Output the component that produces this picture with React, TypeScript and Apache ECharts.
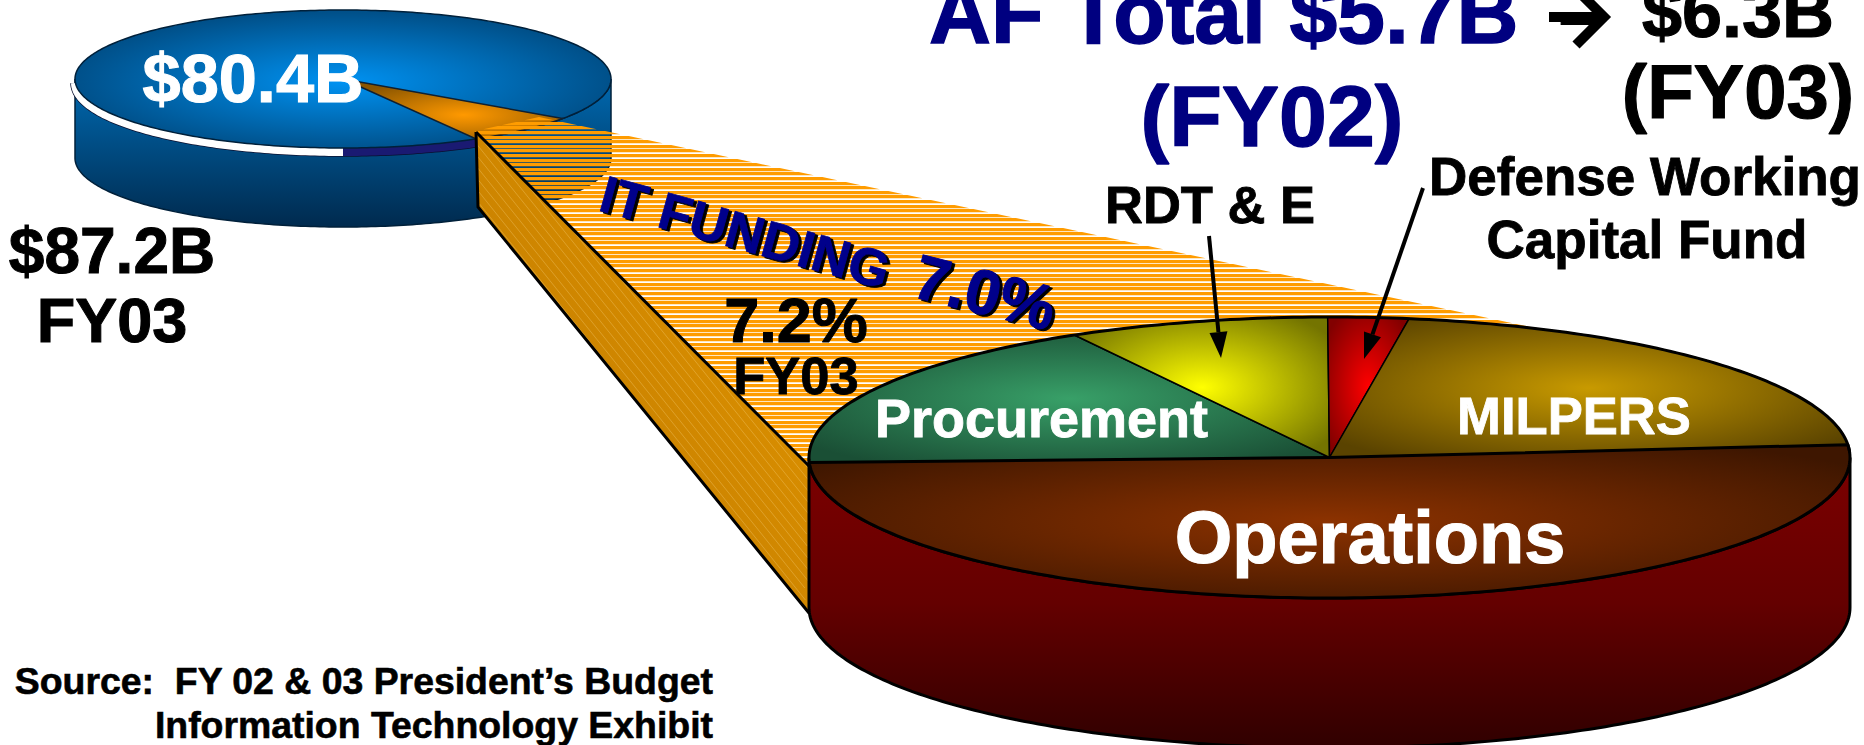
import React, { useEffect, useRef } from "react";
import * as echarts from "echarts";

// ---- data ----
const budgetCategories = ["IT Funding", "Other AF budget"];
const budgetShares = [7.0, 93.0];
const itCategories = ["Procurement", "RDT & E", "Defense Working Capital Fund", "MILPERS", "Operations"];
const itShares = [17.4, 8.1, 2.5, 21.1, 50.9];
const titleLeft = ["AF Total $5.7B", "(FY02)"];
const titleRight = ["$6.3B", "(FY03)"];
const budgetLabels = ["$80.4B", "$87.2B", "FY03"];
const fundingLabels = ["IT FUNDING", "7.0%", "7.2%", "FY03"];
const sourceLines = ["Source:  FY 02 & 03 President\u2019s Budget", "Information Technology Exhibit"];

// ---- layout & style ----
const FONT = '"Liberation Sans", Arial, sans-serif';
const NAVY = "#000080";
const small = { cx: 343, cy: 79, rx: 268, ry: 69, depth: 79, start: 35 };
const big = { cx: 1329.5, cy: 457.5, rx: 520.5, ry: 140.5, depth: 150, start: 178 };
const itPalette = [
  ["#38a068", "#1a4f35"],
  ["#ffff00", "#747400"],
  ["#ff0000", "#820000"],
  ["#c89a00", "#5a4300"],
  ["#8c3200", "#3e1600"],
];
const funnelTop: number[][] = [[475, 131], [539, 117], [1540, 329], [1331, 470], [811, 468]];
const funnelSide: number[][] = [[476, 132], [811, 468], [809, 613], [478, 207]];

type P = number[];
const arc = (e: any, a0: number, a1: number, dy = 0): P[] => {
  const pts: P[] = [];
  const n = Math.max(2, Math.ceil(Math.abs(a1 - a0)));
  for (let i = 0; i <= n; i++) {
    const a = ((a0 + ((a1 - a0) * i) / n) * Math.PI) / 180;
    pts.push([e.cx + e.rx * Math.cos(a), e.cy + e.ry * Math.sin(a) + dy]);
  }
  return pts;
};
const radial = (c: string[], x = 0.5, y = 0.5, r = 0.62) => ({
  type: "radial", x, y, r,
  colorStops: [{ offset: 0, color: c[0] }, { offset: 1, color: c[1] }],
});
const linear = (stops: string[], x = 0, y = 0, x2 = 0, y2 = 1) => ({
  type: "linear", x, y, x2, y2,
  colorStops: stops.map((color, i) => ({ offset: i / (stops.length - 1), color })),
});
const poly = (points: P[], style: any) => ({ type: "polygon", shape: { points }, style });
const pline = (points: P[], stroke: string, lineWidth: number, extra: any = {}) => ({
  type: "polyline", shape: { points }, style: { fill: "none", stroke, lineWidth, ...extra },
});
const txt = (
  text: string, x: number, base: number, size: number, fill: string, align = "center"
) => ({
  type: "text",
  x, y: base - 0.3465 * size,
  style: {
    text, fill, align, verticalAlign: "middle",
    textAlign: align, textVerticalAlign: "middle",
    font: `bold ${size}px ${FONT}`,
    stroke: fill, lineWidth: size * 0.016,
  },
});
// text on a rotated baseline: the position is given on the baseline
const rotTxt = (text: string, x: number, base: number, size: number, fill: string, deg: number) => {
  const r = (deg * Math.PI) / 180;
  const off = 0.3465 * size;
  return {
    type: "text",
    x: x + off * Math.sin(r),
    y: base - off * Math.cos(r),
    rotation: -r,
    style: {
      text, fill, align: "left", verticalAlign: "middle", textAlign: "left", textVerticalAlign: "middle",
      font: `bold ${size}px ${FONT}`, stroke: fill, lineWidth: size * 0.016,
    },
  };
};
const arrow = (a: P, b: P) => {
  const L = Math.hypot(b[0] - a[0], b[1] - a[1]);
  const u = [(b[0] - a[0]) / L, (b[1] - a[1]) / L];
  const h = 26, w = 9;
  const m = [b[0] - u[0] * h, b[1] - u[1] * h];
  return [
    pline([a, m], "#000", 4),
    poly([b, [m[0] - u[1] * w, m[1] + u[0] * w], [m[0] + u[1] * w, m[1] - u[0] * w]], { fill: "#000" }),
  ];
};
const scanX = (poly2: P[], y: number) => {
  const xs: number[] = [];
  poly2.forEach((p, i) => {
    const q = poly2[(i + 1) % poly2.length];
    if ((p[1] <= y && q[1] > y) || (q[1] <= y && p[1] > y)) {
      xs.push(p[0] + ((y - p[1]) * (q[0] - p[0])) / (q[1] - p[1]));
    }
  });
  return xs.length >= 2 ? [Math.min(...xs), Math.max(...xs)] : null;
};
const group = (children: any[]) => ({ type: "group", children });
const layer = (z: number, build: () => any[]) => ({
  type: "custom", coordinateSystem: "none", z, silent: true, data: [0],
  renderItem: () => group(build()),
});

const total = (a: number[]) => a.reduce((s, v) => s + v, 0);

function buildSmallPie() {
  const e = small;
  const w = (budgetShares[0] / total(budgetShares)) * 360;
  const wall = [...arc(e, 180, 0), ...arc(e, 0, 180, e.depth)];
  return [
    poly(wall, { fill: linear(["#0069b0", "#002a4e"]), stroke: "#00203a", lineWidth: 1.5 }),
    pline(arc(e, 180, 60, 4), "#0a1030", 9.5),
    pline(arc(e, 180, 90, 4), "#ffffff", 8),
    pline(arc(e, 90, 60, 4), "#1a1a72", 8),
    poly(arc(e, 0, 360), { fill: radial(["#0092f2", "#004a80"], 0.5, 0.52, 0.55), stroke: "#00203a", lineWidth: 1.5 }),
    poly([[e.cx, e.cy], ...arc(e, e.start, e.start + w)], {
      fill: radial(["#ff9900", "#8a5500"], 0.55, 0.6, 0.6), stroke: "#102030", lineWidth: 1.5,
    }),
  ];
}

function buildFunnel() {
  const bands: any[] = [];
  const H = 3.2;
  for (let y = 117.2; y < 472; y += 4.6) {
    const yy = Math.round(y);
    const a = scanX(funnelTop, yy + 0.01);
    const b = scanX(funnelTop, yy + H);
    if (a && b) bands.push(poly([[a[0], yy], [a[1], yy], [b[1], yy + H], [b[0], yy + H]], { fill: "#ff9c00" }));
  }
  const hatch: any[] = [];
  for (let c = -260; c < 60; c += 9) {
    // diagonal hatch lines of the side face, clipped to it by scan lines
    const seg: P[] = [];
    for (let y = 132; y <= 613; y += 6) {
      const x = 478 + c + (y - 132) / 1.25 + 60;
      const xs = scanX(funnelSide, y);
      if (xs && x >= xs[0] && x <= xs[1]) seg.push([x, y]);
    }
    if (seg.length > 1) hatch.push(pline(seg, "rgba(255,225,150,0.28)", 1));
  }
  return [
    ...bands,
    poly(funnelSide, { fill: linear(["#b87400", "#e89a00"], 0, 1, 1, 0) }),
    ...hatch,
    pline(funnelSide.slice(0, 2), "#000", 3),
    pline([funnelSide[0], funnelSide[3], funnelSide[2]], "#000", 3),
  ];
}

function buildBigWall() {
  const e = big;
  const pts = [...arc(e, 180, 0), ...arc(e, 0, 180, e.depth)];
  return [poly(pts, { fill: linear(["#7c0000", "#640000", "#300000"]), stroke: "#000", lineWidth: 3 })];
}

const itTotal = total(itShares);
function renderSlice(params: any) {
  const i = params.dataIndex;
  const before = itShares.slice(0, i).reduce((s, v) => s + v, 0);
  const a0 = big.start + (before / itTotal) * 360;
  const a1 = a0 + (itShares[i] / itTotal) * 360;
  const isLast = i === itShares.length - 1;
  return poly([[big.cx, big.cy], ...arc(big, a0, a1)], {
    fill: radial(itPalette[i]),
    stroke: "#000",
    lineWidth: isLast ? 3 : 1.5,
    lineJoin: "round",
  });
}

function buildOutline() {
  return [pline(arc(big, 178, 358), "#000", 3)];
}

function buildTexts() {
  const fund = [
    rotTxt(fundingLabels[0], 600, 212, 52, "#000", 15.5),
    rotTxt(fundingLabels[0], 597, 210, 52, "#00008b", 15.5),
    rotTxt(fundingLabels[1], 913, 298, 63, "#000", 14),
    rotTxt(fundingLabels[1], 910, 296, 63, "#00008b", 14),
  ];
  return [
    txt(titleLeft[0], 929, 43, 85.8, NAVY, "left"),
    txt("\u2192", 1579, 33, 60, "#000"),
    pline([[1549, 17], [1604, 17]], "#000", 10),
    pline([[1576, -11], [1604, 17], [1576, 45]], "#000", 10),
    txt(titleRight[0], 1738, 37, 72, "#000"),
    txt(titleLeft[1], 1272, 146, 86, NAVY),
    txt(titleRight[1], 1738, 118, 76, "#000"),
    txt(budgetLabels[0], 253, 102, 68.5, "#fff"),
    txt(budgetLabels[1], 112, 273, 64, "#000"),
    txt(budgetLabels[2], 112, 342, 63, "#000"),
    ...fund,
    txt(fundingLabels[2], 796, 342, 63, "#000"),
    txt(fundingLabels[3], 796, 394, 52.5, "#000"),
    txt(itCategories[1], 1210, 223, 52.5, "#000"),
    txt("Defense Working", 1645, 195, 53, "#000"),
    txt("Capital Fund", 1647, 258, 53, "#000"),
    txt(itCategories[0], 1041.5, 437, 54, "#fff"),
    txt(itCategories[3], 1574, 434, 52.6, "#fff"),
    txt(itCategories[4], 1370, 563, 74, "#fff"),
    txt(sourceLines[0], 713, 694, 37.4, "#000", "right"),
    txt(sourceLines[1], 713, 738, 37.4, "#000", "right"),
    ...arrow([1209, 236], [1221, 358]),
    ...arrow([1423, 188], [1364, 359]),
  ];
}

export default function App() {
  const ref = useRef<HTMLDivElement>(null);
  useEffect(() => {
    document.body.style.margin = "0";
    const chart = echarts.init(ref.current!, null, { renderer: "svg" });
    chart.setOption({
      animation: false,
      backgroundColor: "#ffffff",
      series: [
        layer(1, buildSmallPie),
        layer(2, buildFunnel),
        layer(3, buildBigWall),
        {
          type: "custom", coordinateSystem: "none", z: 4, silent: true,
          data: itShares.map((value, i) => ({ name: itCategories[i], value })),
          renderItem: renderSlice,
        },
        layer(5, buildOutline),
        layer(6, buildTexts),
      ],
    });
    return () => chart.dispose();
  }, []);
  return <div ref={ref} data-budget={budgetCategories.join(",")} style={{ width: 1864, height: 745 }} />;
}
